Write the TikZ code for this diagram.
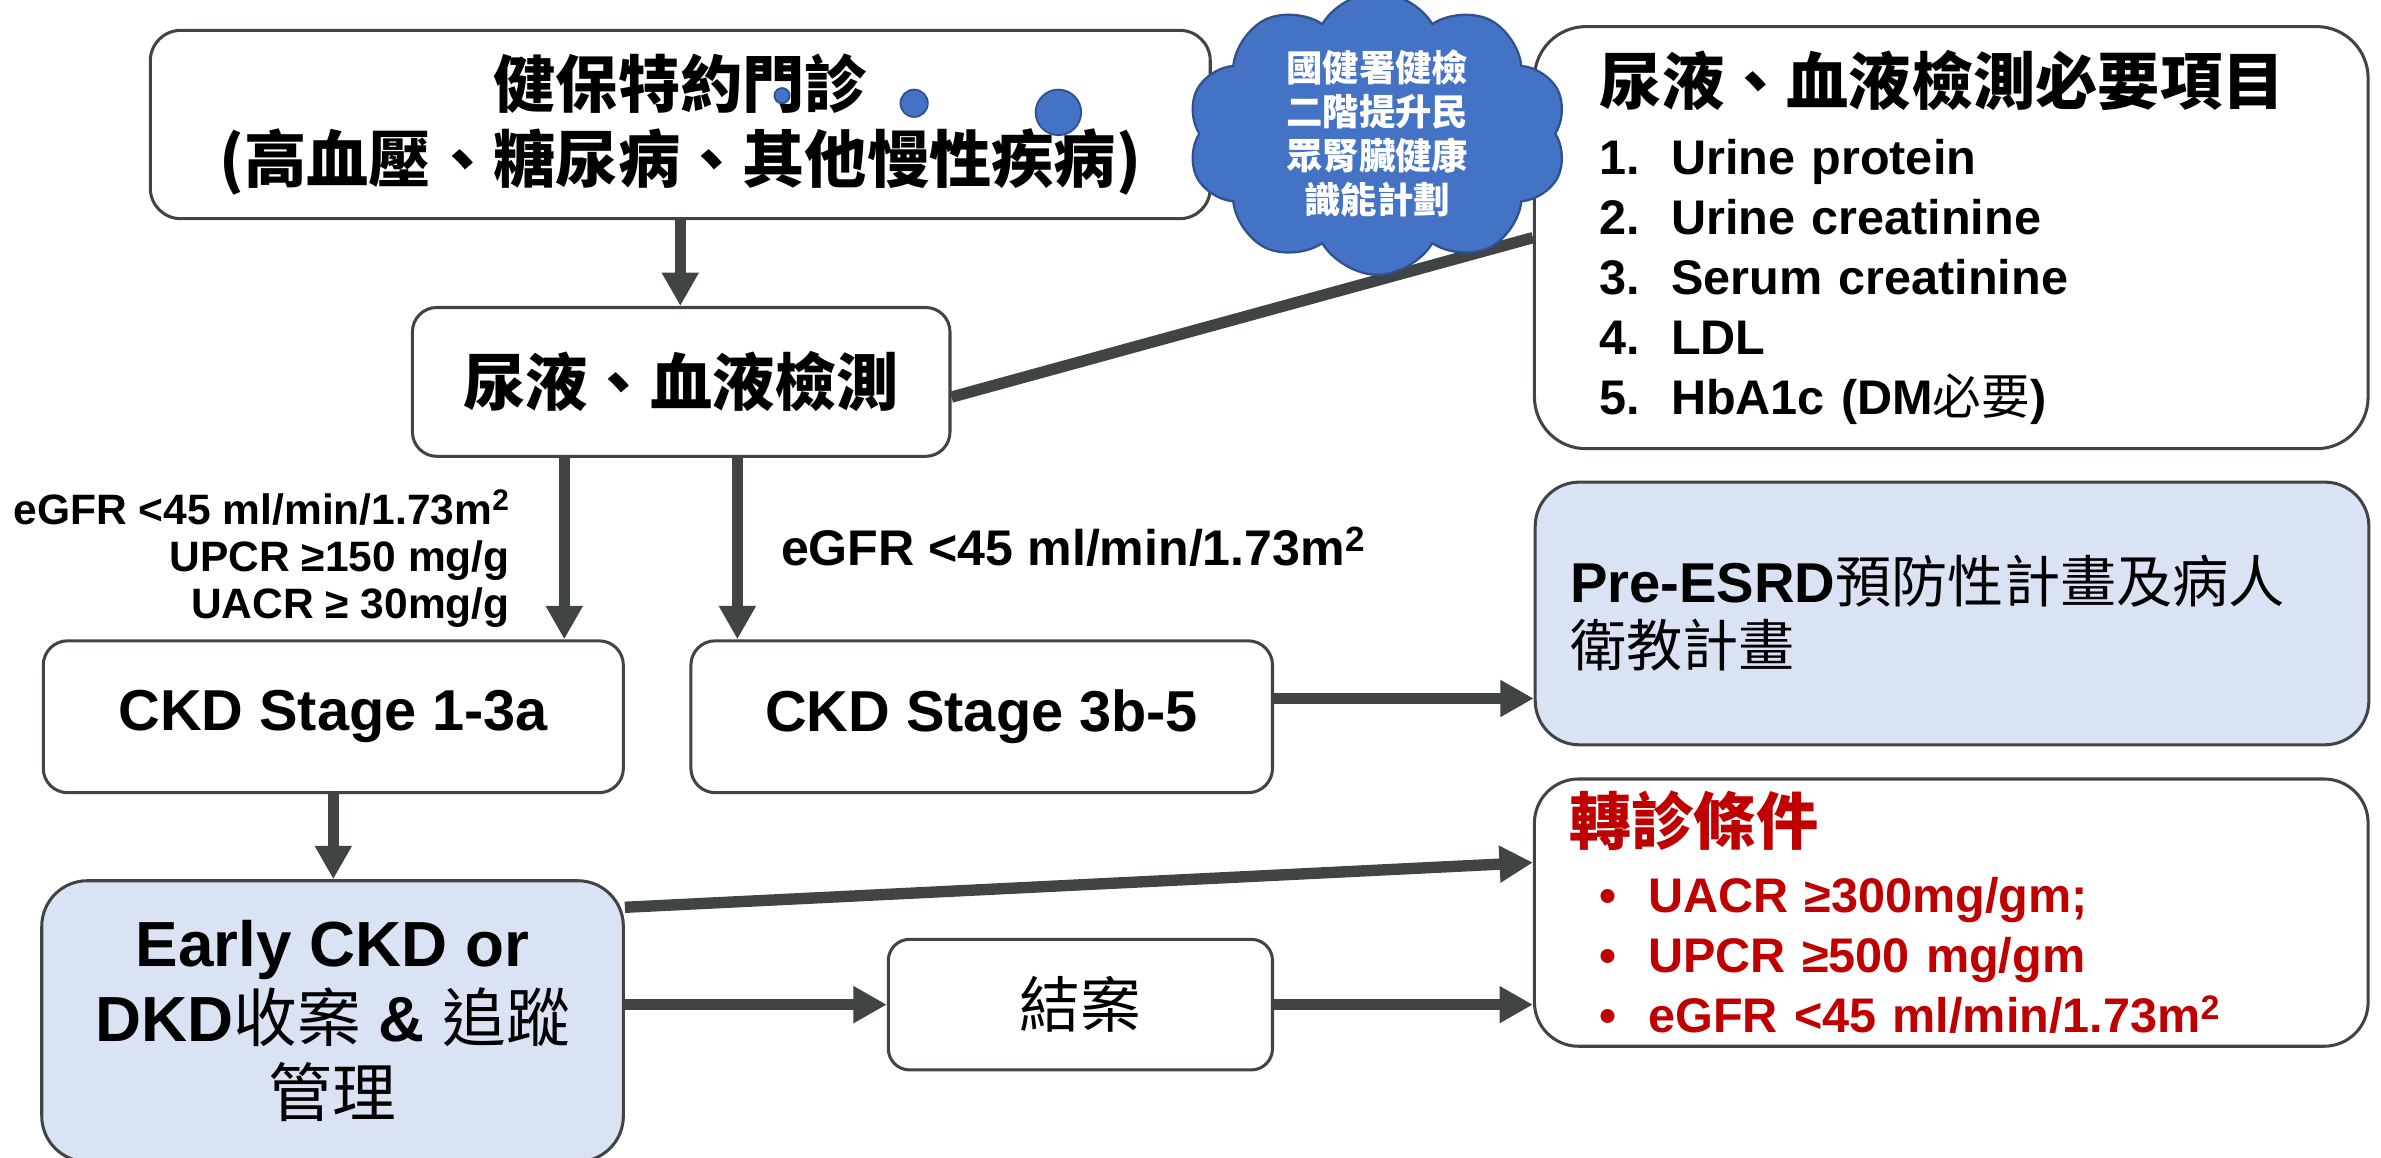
\documentclass[tikz,border=0pt]{standalone}
\usepackage{fontspec}
\setmainfont{Liberation Sans}
\newfontfamily\cjk{Noto Sans CJK TC}
\usetikzlibrary{arrows.meta,shapes.symbols}

\definecolor{boxgray}{RGB}{64,68,68}
\definecolor{paleblue}{RGB}{218,227,243}
\definecolor{cloudblue}{RGB}{68,114,196}
\definecolor{clouddark}{RGB}{47,82,143}
\definecolor{alertred}{RGB}{192,0,0}

\newcommand{\zh}[1]{{\cjk #1}}
\newcommand{\zhr}[1]{{\cjk\mdseries #1}}
\newcommand{\itemnum}[1]{\makebox[47pt][l]{#1}}
\newcommand{\itembul}{\hspace*{20pt}\makebox[32pt][l]{\textbullet}}

\tikzset{every picture/.style={line width=0.75pt}}

\begin{document}
\begin{tikzpicture}[x=1pt,y=1pt,yscale=-1,xscale=1,
  box/.style={draw=boxgray,line width=2pt,fill=white,rounded corners=16pt,inner sep=0pt,align=center},
  bluebox/.style={box,fill=paleblue},
  conn/.style={draw=boxgray,line width=7.5pt},
  arr/.style={conn,-{Triangle[length=22pt,width=23pt]}},
  bubble/.style={circle,draw=clouddark,fill=cloudblue,line width=1.2pt,inner sep=0pt}]
\useasboundingbox (0,0) rectangle (1568,762);

%Rounded Rect: clinic
\draw (448,82) node [box,rounded corners=20pt,minimum width=698pt,minimum height=124pt] [font=\fontsize{41}{50}\selectfont\bfseries] (top) {\zh{健保特約門診}\\\zh{(高血壓、糖尿病、其他慢性疾病)}};
%Rounded Rect: tests
\draw (448.6,251.5) node [box,minimum width=354pt,minimum height=98pt] [font=\fontsize{41}{50}\selectfont\bfseries] (urine) {\zh{尿液、血液檢測}};
%Rounded Rect: stages
\draw (219.5,472) node [box,minimum width=382pt,minimum height=100pt] [font=\fontsize{38}{46}\selectfont\bfseries] (ckdA) {CKD Stage 1-3a};
\draw (646.5,472) node [box,minimum width=383pt,minimum height=100pt] [font=\fontsize{38}{46}\selectfont\bfseries] (ckdB) {CKD Stage 3b-5};
%Rounded Rect: follow up
\draw (219,672.5) node [bluebox,rounded corners=30pt,minimum width=383pt,minimum height=185pt] [font=\fontsize{42}{49.4}\selectfont\bfseries] (early) {Early CKD or\\DKD\zhr{收案} \& \zhr{追蹤}\\\zhr{管理}};
\draw (711.5,661.6) node [box,rounded corners=14pt,minimum width=253pt,minimum height=86pt] [font=\fontsize{40}{48}\selectfont\bfseries] (close) {\zhr{結案}};
%Rounded Rect: right column
\draw (1009.5,156.5) node [box,anchor=west,rounded corners=34pt,inner xsep=43pt,text width=463pt,minimum height=278pt,align=left] [font=\fontsize{32}{39.5}\selectfont\bfseries] (check) {{\fontsize{41}{46}\selectfont\zh{尿液、血液檢測必要項目}}\\[6.5pt]
  \itemnum{1.}Urine protein\\
  \itemnum{2.}Urine creatinine\\
  \itemnum{3.}Serum creatinine\\
  \itemnum{4.}LDL\\
  \itemnum{5.}HbA1c (DM\zhr{必要})};
\draw (1010,404) node [bluebox,anchor=west,rounded corners=29pt,inner xsep=23pt,text width=503pt,minimum height=173pt,align=left] [font=\fontsize{37}{42}\selectfont\bfseries] (pre) {Pre-ESRD\zhr{預防性計畫及病人}\\\zhr{衛教計畫}};
\draw (1009.5,601) node [box,anchor=west,rounded corners=29pt,inner xsep=23pt,text width=503pt,minimum height=176pt,align=left,text=alertred] [font=\fontsize{32}{39.6}\selectfont\bfseries] (refer) {{\fontsize{41}{46}\selectfont\zh{轉診條件}}\\[5pt]
  \itembul UACR ≥300mg/gm;\\
  \itembul UPCR ≥500 mg/gm\\
  \itembul eGFR <45 ml/min/1.73m\textsuperscript{2}};

% Text Node
\draw (336,368) node [anchor=east,inner sep=0pt,align=right] [font=\fontsize{28}{31}\selectfont\bfseries] (lblA) {eGFR <45 ml/min/1.73m\textsuperscript{2}\\UPCR ≥150 mg/g\\UACR ≥ 30mg/g};
% Text Node
\draw (514,360) node [anchor=west,inner sep=0pt] [font=\fontsize{33}{40}\selectfont\bfseries] (lblB) {eGFR <45 ml/min/1.73m\textsuperscript{2}};

%Straight Lines
\draw [arr] (top.south) -- (top.south |- urine.north);
\draw [conn] ([yshift=10pt]urine.east) -- (check.west);
\draw [arr] ([xshift=-77pt]urine.south) -- ([xshift=-77pt]urine.south |- ckdA.north);
\draw [arr] ([xshift=37pt]urine.south) -- ([xshift=37pt]urine.south |- ckdB.north);
\draw [arr] ([yshift=-12pt]ckdB.east) -- ([yshift=-12pt]ckdB.east -| pre.west);
\draw [arr] (ckdA.south) -- (ckdA.south |- early.north);
\draw [arr] ([yshift=-75pt]early.east) -- ([yshift=-33pt]refer.west);
\draw [arr] (early.east |- close.west) -- (close.west);
\draw [arr] (close.east) -- (close.east -| refer.west);

%Shape: Cloud
\draw (907,88) node [cloud,cloud puffs=10,cloud puff arc=120,cloud ignores aspect,draw=clouddark,fill=cloudblue,line width=1.5pt,minimum width=250pt,minimum height=186pt,inner sep=0pt] (cloud) {};
\draw (cloud.center) node [inner sep=0pt,align=center,text=white] [font=\fontsize{24}{29}\selectfont\bfseries] (cloudtxt) {\zh{國健署健檢}\\\zh{二階提升民}\\\zh{眾腎臟健康}\\\zh{識能計劃}};
\draw (515,63) node [bubble,minimum size=10pt] (b1) {};
\draw (602,68) node [bubble,minimum size=18pt] (b2) {};
\draw (697,74) node [bubble,minimum size=30pt] (b3) {};

\end{tikzpicture}
\end{document}
